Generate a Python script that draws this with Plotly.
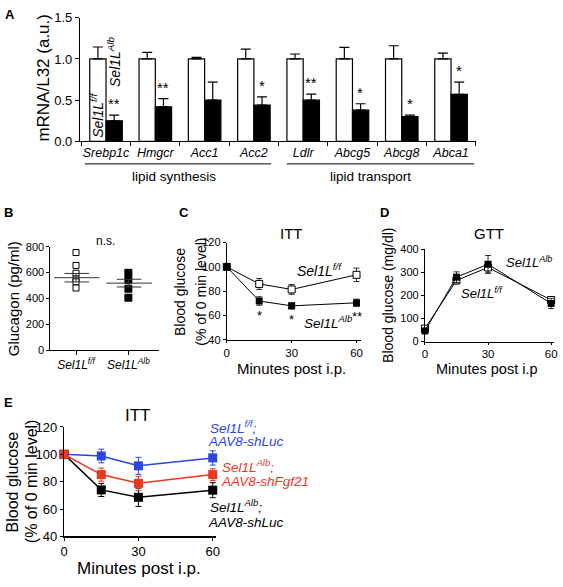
import plotly.graph_objects as go

W, H = 563, 587
def px(x): return x / W
def py(y): return 1 - y / H

FONT = "Liberation Sans"

# ---------------- Panel A data ----------------
genes = ["Srebp1c", "Hmgcr", "Acc1", "Acc2", "Ldlr", "Abcg5", "Abcg8", "Abca1"]
ctrl_mean = [1.0, 1.0, 1.0, 1.0, 1.0, 1.0, 1.0, 1.0]
ctrl_err = [0.145, 0.08, 0.02, 0.12, 0.06, 0.14, 0.16, 0.07]
ko_mean = [0.25, 0.42, 0.50, 0.44, 0.50, 0.38, 0.30, 0.57]
ko_err = [0.07, 0.10, 0.22, 0.10, 0.075, 0.077, 0.02, 0.15]
sig_a = ["**", "**", "", "*", "**", "*", "*", "*"]
group_names = ["lipid synthesis", "lipid transport"]

# ---------------- Panel B data ----------------
b_groups = ["<i>Sel1L<sup>f/f</sup></i>", "<i>Sel1L<sup>Alb</sup></i>"]
gluc_ff = [755, 655, 595, 550, 528, 480]
gluc_alb = [598, 543, 475, 405]
gluc_mean = [560, 518]
gluc_sem = [33, 30]

# ---------------- Panel C data ----------------
minutes = [0, 15, 30, 60]
itt_ff = [100, 86, 81.5, 93.5]
itt_ff_err = [0, 4.5, 4, 5.5]
itt_alb = [100, 72, 68, 70.5]
itt_alb_err = [0, 3.5, 2.5, 3]
sig_c = ["", "*", "*", "**"]

# ---------------- Panel D data ----------------
gtt_ff = [56, 265, 321, 180]
gtt_ff_err = [8, 15, 25, 10]
gtt_alb = [46, 279, 335, 165]
gtt_alb_err = [8, 23, 38, 22]

# ---------------- Panel E data ----------------
e_blue = [100, 98.8, 91.6, 97.4]
e_blue_err = [0, 5, 6.2, 5.2]
e_red = [100, 85.2, 78.8, 85.2]
e_red_err = [0, 4.8, 5.2, 4.3]
e_black = [100, 74, 68.6, 73.8]
e_black_err = [0, 4.8, 6.7, 5.5]

BLUE = "#2b45e0"
RED = "#e8381f"

fig = go.Figure()

# ---- A: bars ----
fig.add_trace(go.Bar(
    x=genes, y=ctrl_mean, xaxis="x", yaxis="y", offsetgroup="a",
    marker=dict(color="white", line=dict(color="black", width=1.2)),
    error_y=dict(type="data", array=ctrl_err, arrayminus=[0]*8, symmetric=False,
                 color="black", thickness=1.2, width=5),
))
fig.add_trace(go.Bar(
    x=genes, y=ko_mean, xaxis="x", yaxis="y", offsetgroup="b",
    marker=dict(color="black", line=dict(color="black", width=1.2)),
    error_y=dict(type="data", array=ko_err, arrayminus=[0]*8, symmetric=False,
                 color="black", thickness=1.2, width=5),
))

# ---- B: scatter ----
fig.add_trace(go.Scatter(
    x=[1]*len(gluc_ff), y=gluc_ff, xaxis="x2", yaxis="y2", mode="markers",
    marker=dict(symbol="square", size=6, color="white", line=dict(color="black", width=1)),
))
fig.add_trace(go.Scatter(
    x=[2]*len(gluc_alb), y=gluc_alb, xaxis="x2", yaxis="y2", mode="markers",
    marker=dict(symbol="square", size=7, color="black", line=dict(color="black", width=1)),
))
for i, (m, s) in enumerate(zip(gluc_mean, gluc_sem)):
    c = i + 1
    fig.add_trace(go.Scatter(x=[c-0.42, c+0.45], y=[m, m], xaxis="x2", yaxis="y2",
                             mode="lines", line=dict(color="#333", width=1)))
    for v in (m - s, m + s):
        fig.add_trace(go.Scatter(x=[c-0.22, c+0.25], y=[v, v], xaxis="x2", yaxis="y2",
                                 mode="lines", line=dict(color="#333", width=1)))
    fig.add_trace(go.Scatter(x=[c, c], y=[m - s, m + s], xaxis="x2", yaxis="y2",
                             mode="lines", line=dict(color="#333", width=1)))

# ---- C: ITT ----
fig.add_trace(go.Scatter(
    x=minutes, y=itt_ff, xaxis="x3", yaxis="y3", mode="lines+markers", cliponaxis=False,
    line=dict(color="black", width=1),
    marker=dict(symbol="square", size=7, color="white", line=dict(color="black", width=1)),
    error_y=dict(type="data", array=itt_ff_err, color="black", thickness=0.8, width=3),
))
fig.add_trace(go.Scatter(
    x=minutes, y=itt_alb, xaxis="x3", yaxis="y3", mode="lines+markers", cliponaxis=False,
    line=dict(color="black", width=1),
    marker=dict(symbol="square", size=7, color="black"),
    error_y=dict(type="data", array=itt_alb_err, color="black", thickness=0.8, width=3),
))

# ---- D: GTT ----
fig.add_trace(go.Scatter(
    x=minutes, y=gtt_ff, xaxis="x4", yaxis="y4", mode="lines+markers", cliponaxis=False,
    line=dict(color="black", width=1),
    marker=dict(symbol="square", size=7, color="white", line=dict(color="black", width=1)),
    error_y=dict(type="data", array=gtt_ff_err, color="black", thickness=0.8, width=3),
))
fig.add_trace(go.Scatter(
    x=minutes, y=gtt_alb, xaxis="x4", yaxis="y4", mode="lines+markers", cliponaxis=False,
    line=dict(color="black", width=1),
    marker=dict(symbol="square", size=7, color="black"),
    error_y=dict(type="data", array=gtt_alb_err, color="black", thickness=0.8, width=3),
))

# ---- E: ITT with AAV8 ----
for yv, ev, col in ((e_blue, e_blue_err, BLUE), (e_black, e_black_err, "black"), (e_red, e_red_err, RED)):
    fig.add_trace(go.Scatter(
        x=minutes, y=yv, xaxis="x5", yaxis="y5", mode="lines+markers", cliponaxis=False,
        line=dict(color=col, width=1.5),
        marker=dict(symbol="square", size=9, color=col),
        error_y=dict(type="data", array=ev, color=col, thickness=1, width=3),
    ))

axis_common = dict(showline=True, linecolor="black", linewidth=1, ticks="outside",
                   tickcolor="black", ticklen=3, tickwidth=1, showgrid=False,
                   zeroline=False, fixedrange=True, tickangle=0)

layout = dict(
    width=W, height=H, autosize=False,
    margin=dict(l=0, r=0, t=0, b=0),
    paper_bgcolor="white", plot_bgcolor="white",
    showlegend=False, barmode="group", bargap=0.34, bargroupgap=0,
    font=dict(family=FONT, color="black"),
    # A
    xaxis=dict(axis_common, domain=[px(77), px(479)], anchor="y", type="category",
               tickvals=genes, ticktext=["<i>%s</i>" % g for g in genes],
               tickson="boundaries", ticklen=4, tickfont=dict(size=12.5),
               range=[-0.53, 7.51]),
    yaxis=dict(axis_common, domain=[py(138), py(11)], anchor="x", range=[0, 1.5],
               tickvals=[0, 0.5, 1.0, 1.5], tickformat=".1f", ticklen=4,
               tickfont=dict(size=13)),
    # B
    xaxis2=dict(axis_common, domain=[px(47), px(157)], anchor="y2", range=[0.51, 2.58],
                tickvals=[1, 2], ticktext=b_groups, ticklen=4, tickfont=dict(size=12)),
    yaxis2=dict(axis_common, domain=[py(352), py(246)], anchor="x2", range=[0, 800],
                tickvals=[0, 200, 400, 600, 800], tickfont=dict(size=11)),
    # C
    xaxis3=dict(axis_common, domain=[px(226), px(362)], anchor="y3", range=[0, 62],
                tickvals=[0, 30, 60], tickfont=dict(size=11.5), ticklen=2),
    yaxis3=dict(axis_common, domain=[py(341.7), py(241.7)], anchor="x3", range=[40, 120],
                tickvals=[40, 60, 80, 100, 120], tickfont=dict(size=11)),
    # D
    xaxis4=dict(axis_common, domain=[px(427), px(558)], anchor="y4", range=[0, 61.4],
                tickvals=[0, 30, 60], tickfont=dict(size=11.5), ticklen=2),
    yaxis4=dict(axis_common, domain=[py(343.3), py(248.6)], anchor="x4", range=[0, 400],
                tickvals=[0, 100, 200, 300, 400], tickfont=dict(size=11)),
    # E
    xaxis5=dict(axis_common, domain=[px(61), px(215)], anchor="y5", range=[0, 61.3],
                tickvals=[0, 30, 60], tickfont=dict(size=13), linewidth=1.3),
    yaxis5=dict(axis_common, domain=[py(543.3), py(431)], anchor="x5", range=[40, 120],
                tickvals=[40, 60, 80, 100, 120], tickfont=dict(size=13), linewidth=1.3),
)

ann = []
def txt(x, y, text, size=14, xanchor="center", yanchor="middle", angle=0, color="black"):
    ann.append(dict(x=px(x), y=py(y), xref="paper", yref="paper", text=text,
                    showarrow=False, xanchor=xanchor, yanchor=yanchor, textangle=angle,
                    font=dict(size=size, color=color, family=FONT)))

# panel letters
for letter, x, y in (("A", 6, 8), ("B", 5, 211), ("C", 183, 211), ("D", 386, 211), ("E", 5, 406)):
    txt(x, y, "<b>%s</b>" % letter, size=13)

# A texts
txt(40, 72, "mRNA/L32 (a.u.)", size=17, angle=-90)
txt(95, 111, "<i>Sel1L<sup>f/f</sup></i>", size=14, angle=-90)
txt(111, 56, "<i>Sel1L<sup>Alb</sup></i>", size=14, angle=-90)
for g, m, e, s in zip(genes, ko_mean, ko_err, sig_a):
    if s:
        ann.append(dict(x=g, y=m + e, xref="x", yref="y", text=s, showarrow=False,
                        xshift=8, yshift=1, yanchor="bottom", xanchor="center",
                        font=dict(size=15, family=FONT, color="black")))
txt(172, 174, group_names[0], size=13.5)
txt(372, 174, group_names[1], size=13.5)

# B texts
txt(10, 299, "Glucagon (pg/ml)", size=15, angle=-90)
txt(103, 240, "n.s.", size=12)

# C texts
txt(292, 232, "ITT", size=15)
txt(178, 292, "Blood glucose", size=14, angle=-90)
txt(199, 292, "(% of 0 min level)", size=14, angle=-90)
txt(292, 371, "Minutes post i.p.", size=15)
txt(295, 270, "<i>Sel1L<sup>f/f</sup></i>", size=14, xanchor="left")
txt(302, 323, "<i>Sel1L<sup>Alb</sup></i>", size=13.5, xanchor="left")
for t, m, e, s in zip(minutes, itt_alb, itt_alb_err, sig_c):
    if s:
        ann.append(dict(x=t, y=m - e, xref="x3", yref="y3", text=s, showarrow=False,
                        yshift=-1, yanchor="top", xanchor="center",
                        font=dict(size=13, family=FONT, color="black")))

# D texts
txt(492, 232, "GTT", size=15)
txt(390, 296, "Blood glucose (mg/dl)", size=14, angle=-90)
txt(490, 371, "Minutes post i.p", size=14.5)
txt(507, 262, "<i>Sel1L<sup>Alb</sup></i>", size=13, xanchor="left")
txt(462, 293, "<i>Sel1L<sup>f/f</sup></i>", size=13, xanchor="left")

# E texts
txt(136, 419, "ITT", size=17)
txt(9, 487, "Blood glucose", size=16, angle=-90)
txt(28, 487, "(% of 0 min level)", size=16, angle=-90)
txt(137, 576, "Minutes post i.p.", size=17)
txt(207, 431, "<i>Sel1L<sup>f/f</sup>;</i>", size=13.5, xanchor="left", color=BLUE)
txt(205, 446, "<i>AAV8-shLuc</i>", size=13.5, xanchor="left", color=BLUE)
txt(219, 471, "<i>Sel1L<sup>Alb</sup>;</i>", size=13.5, xanchor="left", color=RED)
txt(218, 487, "<i>AAV8-shFgf21</i>", size=13.5, xanchor="left", color=RED)
txt(207, 512, "<i>Sel1L<sup>Alb</sup>;</i>", size=13.5, xanchor="left")
txt(205, 529, "<i>AAV8-shLuc</i>", size=13.5, xanchor="left")

layout["annotations"] = ann
layout["shapes"] = [
    dict(type="line", xref="paper", yref="paper", x0=px(82), x1=px(271), y0=py(161), y1=py(161),
         line=dict(color="black", width=1)),
    dict(type="line", xref="paper", yref="paper", x0=px(287), x1=px(477), y0=py(161), y1=py(161),
         line=dict(color="black", width=1)),
]

fig.update_layout(**layout)
# remove the browser's default 8px page margin so the figure fills the window
fig.write_html("out.html", config={"displayModeBar": False, "staticPlot": True},
               post_script="document.body.style.margin='0';document.body.style.overflow='hidden';")
